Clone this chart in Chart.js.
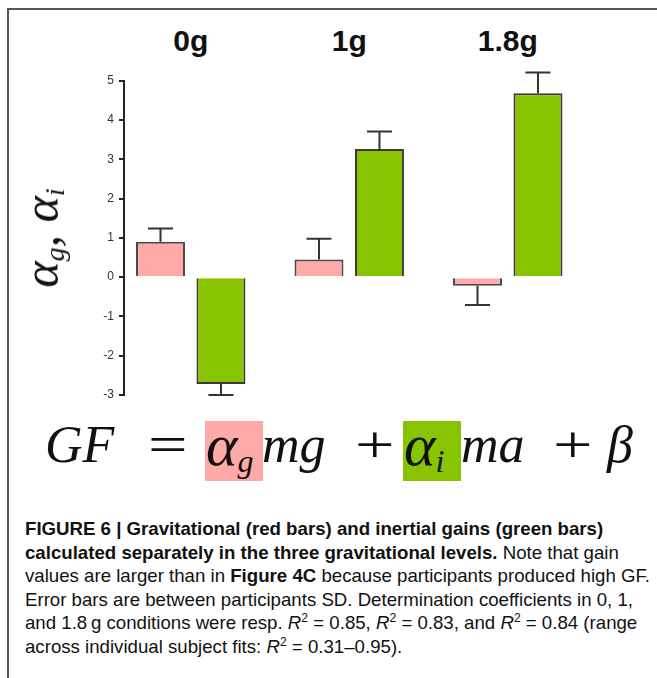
<!DOCTYPE html>
<html>
<head>
<meta charset="utf-8">
<script src="https://cdn.jsdelivr.net/npm/chart.js@4.4.0/dist/chart.umd.min.js"></script>
<style>
  html, body { margin: 0; padding: 0; background: #fff; }
  body { width: 657px; height: 678px; position: relative; overflow: hidden; font-family: "Liberation Sans", Arial, sans-serif; color: #111; }
  #frame { position: absolute; left: 7px; top: 8px; width: 700px; height: 700px; border-left: 2px solid #555; border-top: 2px solid #555; }
  #chartBox { position: absolute; left: 60px; top: 60px; width: 560px; height: 350px; }
  .grp { position: absolute; top: 26px; font-size: 30px; line-height: 30px; font-weight: bold; white-space: nowrap; transform: translateX(-50%); }
  #ytitle { position: absolute; left: 48px; top: 238px; transform: translate(-50%, -50%) rotate(-90deg); font-family: "Liberation Serif", serif; font-style: italic; font-size: 50px; line-height: 50px; white-space: nowrap; }
  #ytitle sub { font-size: 28px; vertical-align: -6px; }
  .fm { position: absolute; top: 415px; font-family: "Liberation Serif", serif; font-size: 52px; line-height: 60px; white-space: nowrap; }
  .fm i { font-style: italic; }
  .op { transform: scaleX(1.35); transform-origin: left; }
  .hl { width: 58px; height: 60px; top: 421px; }
  .hl.red { background: #ffa9a9; }
  .hl.green { background: #88c400; }
  .fm .al { font-size: 60px; }
  .fm sub { font-size: 32px; vertical-align: -7px; }
  #caption { position: absolute; left: 25px; top: 517px; font-size: 18.5px; line-height: 23.6px; transform-origin: left top; }
  #caption div { white-space: nowrap; }
  #caption sup { font-size: 12px; vertical-align: 7px; line-height: 0; }
</style>
</head>
<body>
<div id="frame"></div>
<div id="chartBox"><canvas id="gainChart" width="560" height="350"></canvas></div>
<div id="ytitle">α<sub>g</sub>, α<sub>i</sub></div>

<div class="fm hl red" style="left:205px"></div>
<div class="fm hl green" style="left:403px"></div>
<div class="fm" style="left:45px"><i>GF</i></div>
<div class="fm op" style="left:148px">=</div>
<div class="fm" style="left:206px"><i><span class="al">α</span><sub>g</sub></i></div>
<div class="fm" style="left:262px"><i>mg</i></div>
<div class="fm op" style="left:355px">+</div>
<div class="fm" style="left:404px"><i><span class="al">α</span><sub>i</sub></i></div>
<div class="fm" style="left:461px"><i>ma</i></div>
<div class="fm op" style="left:553px">+</div>
<div class="fm" style="left:607px"><i>β</i></div>

<div id="caption">
  <div><b>FIGURE 6 | Gravitational (red bars) and inertial gains (green bars)</b></div>
  <div><b>calculated separately in the three gravitational levels.</b> Note that gain</div>
  <div>values are larger than in <b>Figure 4C</b> because participants produced high GF.</div>
  <div id="cl4">Error bars are between participants SD. Determination coefficients in 0, 1,</div>
  <div>and 1.8&#8201;g conditions were resp. <i>R</i><sup>2</sup> = 0.85, <i>R</i><sup>2</sup> = 0.83, and <i>R</i><sup>2</sup> = 0.84 (range</div>
  <div>across individual subject fits: <i>R</i><sup>2</sup> = 0.31–0.95).</div>
</div>

<script>
// datos
const categories = ['0g', '1g', '1.8g'];
const gravGain = [0.90, 0.45, -0.22];   // barras rojas
const gravSD = [0.34, 0.53, 0.49];
const inertGain = [-2.72, 3.26, 4.68];  // barras verdes
const inertSD = [0.28, 0.45, 0.53];
const yTicks = [-3, -2, -1, 0, 1, 2, 3, 4, 5];

// barras de error (solo hacia fuera del cero)
const errorBars = {
    id: 'errorBars',
    afterDatasetsDraw(chart) {
        const ctx = chart.ctx;
        const yScale = chart.scales.y;
        chart.data.datasets.forEach((ds, di) => {
            const meta = chart.getDatasetMeta(di);
            meta.data.forEach((bar, i) => {
                const v = ds.data[i].y;
                const sd = ds.sd[i];
                const yEnd = yScale.getPixelForValue(v < 0 ? v - sd : v + sd);
                ctx.save();
                ctx.strokeStyle = '#333';
                ctx.lineWidth = 2;
                ctx.beginPath();
                ctx.moveTo(bar.x, bar.y);
                ctx.lineTo(bar.x, yEnd);
                ctx.moveTo(bar.x - 12.5, yEnd);
                ctx.lineTo(bar.x + 12.5, yEnd);
                ctx.stroke();
                ctx.restore();
            });
        });
    }
};

const chart = new Chart(document.getElementById('gainChart').getContext('2d'), {
    type: 'bar',
    data: {
        datasets: [
            {
                label: 'Gravitational',
                data: gravGain.map((v, i) => ({ x: i, y: v })),
                sd: gravSD,
                backgroundColor: '#ffa9a9',
                borderColor: '#4a4a4a',
                borderWidth: 2
            },
            {
                label: 'Inertial',
                data: inertGain.map((v, i) => ({ x: i, y: v })),
                sd: inertSD,
                backgroundColor: '#88c400',
                borderColor: '#3a3a3a',
                borderWidth: 2
            }
        ]
    },
    options: {
        responsive: false,
        animation: false,
        categoryPercentage: 0.763,
        barPercentage: 0.81,
        layout: { padding: { left: 0, top: 20.7, right: 33, bottom: 15 } },
        plugins: { legend: { display: false }, tooltip: { enabled: false } },
        scales: {
            x: {
                type: 'linear',
                offset: false,
                grid: { offset: false },
                min: -0.421,
                max: 2.5,
                display: false,
                afterBuildTicks: s => { s.ticks = categories.map((c, i) => ({ value: i })); }
            },
            y: {
                min: -3,
                max: 5,
                afterBuildTicks: s => { s.ticks = yTicks.map(v => ({ value: v })); },
                afterFit: s => { s.width = 64; },
                grid: { drawOnChartArea: false, drawTicks: true, tickLength: 5, color: '#222', lineWidth: 2 },
                border: { display: true, color: '#222', width: 2 },
                ticks: { color: '#333', padding: 5, font: { size: 12, family: 'Liberation Sans' } }
            }
        }
    },
    plugins: [errorBars]
});

// etiquetas de grupo encima de cada par de barras
const box = document.getElementById('chartBox');
categories.forEach((c, i) => {
    const el = document.createElement('div');
    el.className = 'grp';
    el.textContent = c;
    el.style.left = (box.offsetLeft + chart.scales.x.getPixelForValue(i)) + 'px';
    document.body.appendChild(el);
});

// ajustar el ancho del pie (fuente condensada en el original)
const cap = document.getElementById('caption');
const range = document.createRange();
range.selectNodeContents(document.getElementById('cl4'));
const textW = range.getBoundingClientRect().width;
cap.style.transform = 'scaleX(' + (608 / textW) + ')';
</script>
</body>
</html>
